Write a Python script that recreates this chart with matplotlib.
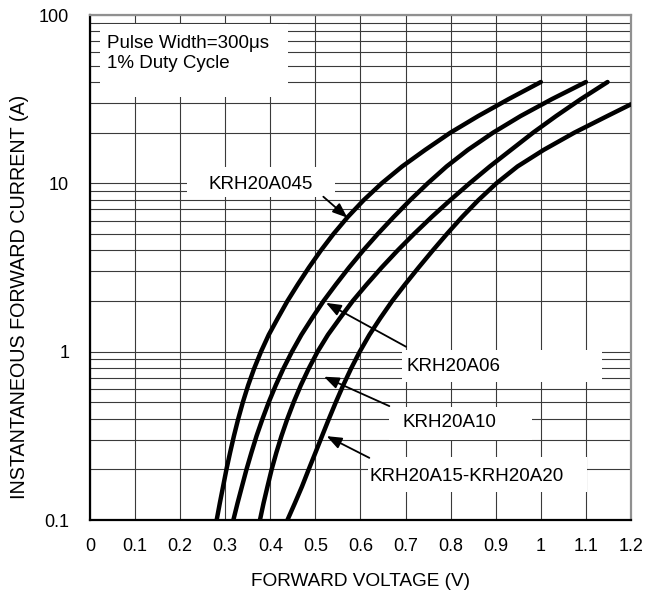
import numpy as np
import matplotlib
matplotlib.use("Agg")
import matplotlib.pyplot as plt
from matplotlib.patches import Rectangle

plt.rcParams['font.family'] = ['Liberation Sans', 'DejaVu Sans']

# forward current (A), same reading grid for every curve
i_grid = [0.1, 0.126, 0.158, 0.2, 0.251, 0.316, 0.398, 0.501, 0.631, 0.794,
          1, 1.26, 1.58, 2, 2.51, 3.16, 3.98, 5.01, 6.31, 7.94,
          10, 12.6, 15.8, 20, 25.1, 31.6, 40]

# forward voltage (V)
v_045 = [0.281, 0.288, 0.2952, 0.3027, 0.3107, 0.3193, 0.3287, 0.3391, 0.3508, 0.3641,
         0.3793, 0.3965, 0.4165, 0.438, 0.461, 0.4855, 0.5117, 0.5402, 0.5717, 0.6069,
         0.6469, 0.6924, 0.7434, 0.7994, 0.861, 0.928, 1.0]
v_06 = [0.318, 0.3273, 0.337, 0.3472, 0.358, 0.3695, 0.3825, 0.3965, 0.412, 0.429,
        0.448, 0.469, 0.4925, 0.518, 0.5455, 0.5745, 0.6055, 0.6385, 0.6735, 0.71,
        0.749, 0.791, 0.838, 0.894, 0.955, 1.024, 1.1]
v_10 = [0.377, 0.385, 0.3937, 0.403, 0.4133, 0.4248, 0.4376, 0.4518, 0.4676, 0.4852,
        0.5048, 0.5278, 0.5543, 0.5828, 0.6138, 0.6468, 0.6818, 0.7188, 0.7578, 0.7988,
        0.8418, 0.8868, 0.9338, 0.9828, 1.0338, 1.0883, 1.148]
# the last curve runs off the right edge near 29.5 A
i_15 = i_grid[:25] + [29.5]
v_15 = [0.438, 0.4545, 0.4702, 0.4852, 0.500, 0.5148, 0.5298, 0.5453, 0.5616, 0.5791,
        0.5983, 0.6198, 0.6438, 0.6703, 0.6988, 0.7288, 0.7598, 0.7918, 0.8253, 0.8613,
        0.9013, 0.9483, 1.0063, 1.0743, 1.1473, 1.2]

x_ticks = [0, 0.1, 0.2, 0.3, 0.4, 0.5, 0.6, 0.7, 0.8, 0.9, 1.0, 1.1, 1.2]
x_ticklabels = ['0', '0.1', '0.2', '0.3', '0.4', '0.5', '0.6', '0.7', '0.8', '0.9', '1', '1.1', '1.2']
y_ticks = [0.1, 1, 10, 100]
y_ticklabels = ['0.1', '1', '10', '100']

fig = plt.figure(figsize=(6.45, 5.96), dpi=100)
ax = fig.add_axes([0.1395, 0.1275, 0.8388, 0.8473])
ax.set_yscale('log')
ax.set_xlim(0, 1.2)
ax.set_ylim(0.1, 100)

ax.set_xticks(x_ticks)
ax.set_xticklabels(x_ticklabels)
ax.set_yticks(y_ticks)
ax.set_yticklabels(y_ticklabels)
ax.tick_params(axis='both', which='both', length=0, labelsize=13)
ax.tick_params(axis='x', pad=13)
ax.tick_params(axis='y', pad=15)

ax.grid(True, which='major', axis='x', color='#3a3a3a', lw=0.8, zorder=0)
ax.grid(True, which='both', axis='y', color='#3a3a3a', lw=0.8, zorder=0)
ax.set_axisbelow(True)

for s in ['left', 'bottom']:
    ax.spines[s].set_color('black')
    ax.spines[s].set_linewidth(1.6)
for s in ['top', 'right']:
    ax.spines[s].set_color('#909090')
    ax.spines[s].set_linewidth(1.6)

for v, i in [(v_045, i_grid), (v_06, i_grid), (v_10, i_grid), (v_15, i_15)]:
    ax.plot(v, i, color='black', lw=3.2, solid_capstyle='round', solid_joinstyle='round', zorder=3)

# white patches behind the text, hiding the grid
boxes = [(0.022, 32.6, 0.439, 88.4), (0.215, 8.29, 0.543, 12.5),
         (0.691, 0.66, 1.135, 1.02), (0.663, 0.298, 0.98, 0.471),
         (0.617, 0.147, 1.102, 0.237)]
for x0, y0, x1, y1 in boxes:
    ax.add_patch(Rectangle((x0, y0), x1 - x0, y1 - y0, facecolor='white', edgecolor='none', zorder=1))

fs = 13.5
ax.text(0.037, 59.0, 'Pulse Width=300μs\n1% Duty Cycle', fontsize=fs, ha='left', va='center', zorder=2)
ax.text(0.378, 9.9, 'KRH20A045', fontsize=fs, ha='center', va='center', zorder=2)
ax.text(0.701, 0.813, 'KRH20A06', fontsize=fs, ha='left', va='center', zorder=2)
ax.text(0.694, 0.378, 'KRH20A10', fontsize=fs, ha='left', va='center', zorder=2)
ax.text(0.621, 0.1806, 'KRH20A15-KRH20A20', fontsize=fs, ha='left', va='center', zorder=2)

arrows = [((0.5176, 8.33), (0.571, 6.25)),
          ((0.701, 1.07), (0.5235, 1.95)),
          ((0.664, 0.475), (0.519, 0.71)),
          ((0.6196, 0.234), (0.525, 0.315))]
for tail, head in arrows:
    ax.annotate('', xy=head, xytext=tail,
                arrowprops=dict(arrowstyle='-|>,head_length=0.9,head_width=0.35', mutation_scale=10,
                                color='black', lw=1.3, shrinkA=0, shrinkB=0), zorder=4)

ax.set_xlabel('FORWARD VOLTAGE (V)', fontsize=13.7)
ax.set_ylabel('INSTANTANEOUS FORWARD CURRENT (A)', fontsize=14.2)
ax.xaxis.set_label_coords(0.5, -0.122)
ax.xaxis.label.set_va('center')
ax.yaxis.set_label_coords(-0.131, 0.442)
ax.yaxis.label.set_va('center')

fig.savefig('out.png', dpi=100)
